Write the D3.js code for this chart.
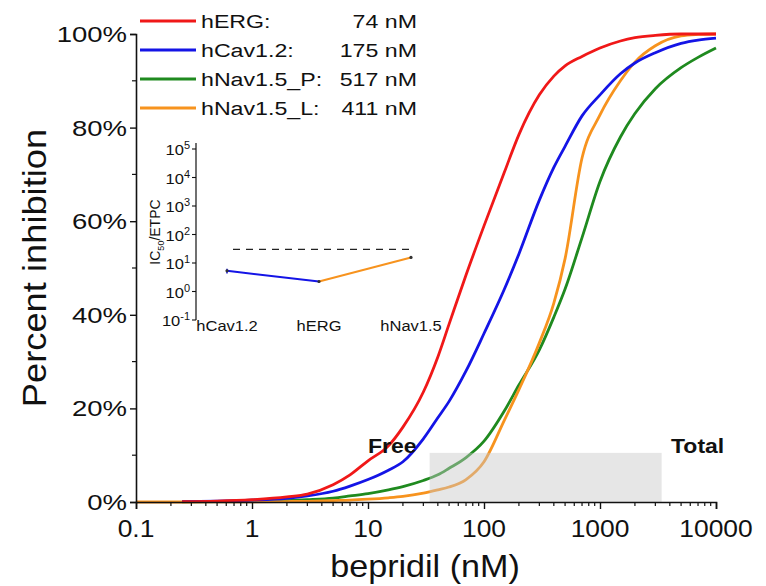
<!DOCTYPE html>
<html>
<head>
<meta charset="utf-8">
<script src="https://cdn.jsdelivr.net/npm/d3@7"></script>
<style>
  html, body { margin: 0; padding: 0; background: #fff; }
  svg { display: block; font-family: "Liberation Sans", Arial, Helvetica, sans-serif; }
</style>
</head>
<body>
<svg id="chart" width="766" height="586"></svg>
<script>
// Concentration grid (nM) shared by all inhibition curves
const conc = [0.1, 0.25, 0.5, 1, 2, 3, 5, 7, 10, 15, 20, 30, 40, 50, 70, 100, 150, 200, 300, 400, 500, 700, 1000, 1500, 2000, 3000, 5000, 7000, 10000];

// Percent inhibition per channel at each concentration (null = not simulated)
const hERG     = [null, 0.1, 0.2, 0.5, 1.1, 1.7, 3.7, 5.8, 8.8, 12, 16, 23.5, 31, 38, 48.5, 59, 70.5, 78.5, 87, 91, 93.2, 95.2, 97, 98.5, 99.2, 99.7, 100, 100, 100];
const hCav12   = [null, 0.1, 0.2, 0.4, 0.8, 1.3, 2.3, 3.4, 4.8, 6.8, 8.6, 13.5, 18, 21.5, 28, 36, 45.5, 53, 64.5, 71.5, 76, 82.5, 87, 91.5, 93.8, 96, 98, 98.7, 99.1];
const hNav15P  = [null, 0.05, 0.1, 0.15, 0.3, 0.5, 0.85, 1.3, 1.8, 2.6, 3.3, 4.6, 5.8, 7.2, 9.5, 13, 19.5, 25, 32.5, 39.5, 45.5, 56.5, 68.5, 78, 83, 88.3, 92.8, 95, 97];
const hNav15L  = [0, 0, 0.02, 0.05, 0.1, 0.15, 0.3, 0.4, 0.6, 0.9, 1.2, 1.9, 2.6, 3.2, 4.8, 8.6, 17.5, 24, 34, 42.5, 52, 73.5, 82.7, 90, 94, 97.5, 99.6, 99.9, 100];

// Legend entries: channel name and IC50 (nM)
const seriesNames = ["hERG:", "hCav1.2:", "hNav1.5_P:", "hNav1.5_L:"];
const ic50 = [74, 175, 517, 411];
const seriesColors = ["#f01818", "#1414e6", "#1f8a1f", "#f7931e"];

// Axis ticks
const xTicks = [0.1, 1, 10, 100, 1000, 10000];
const yTicks = [0, 20, 40, 60, 80, 100];
const yMinorTicks = [10, 30, 50, 70, 90];

// Free and total plasma concentration band (nM) and its height (%)
const freeConc = 34;
const totalConc = 3400;
const bandTop = 10.5;

// Inset: IC50 / ETPC ratio per channel
const insetCats = ["hCav1.2", "hERG", "hNav1.5"];
const insetRatio = [5.3, 2.24, 15.7];
const insetLow = [4.3, 2.05, 14.6];
const insetHigh = [6.3, 2.45, 16.9];
const insetColors = ["#1414e6", "#f7931e"];
const marginLine = 30;
const insetTicks = [-1, 0, 1, 2, 3, 4, 5];

const svg = d3.select("#chart");

const x = d3.scaleLog().domain([0.1, 10000]).range([136, 716]);
const y = d3.scaleLinear().domain([0, 100]).range([502, 34]);

// helper: text with horizontal stretch
function label(g, px, py, str, size, anchor, sx, weight) {
  return g.append("text")
    .attr("transform", `translate(${px},${py}) scale(${sx},1)`)
    .attr("text-anchor", anchor || "start")
    .attr("font-size", size)
    .attr("font-weight", weight || "normal")
    .attr("fill", "#111")
    .text(str);
}

// ---- curves ----
const allSeries = [hERG, hCav12, hNav15P, hNav15L];
const line = d3.line()
  .defined(d => d[1] != null)
  .x(d => x(d[0]))
  .y(d => y(d[1]))
  .curve(d3.curveMonotoneX);

const curves = svg.append("g");
// draw order: green, orange, blue, red
[2, 3, 1, 0].forEach(i => {
  const pts = conc.map((c, k) => [c, allSeries[i][k]]);
  curves.append("path")
    .attr("d", line(pts))
    .attr("fill", "none")
    .attr("stroke", seriesColors[i])
    .attr("stroke-width", 2.8)
    .attr("stroke-linejoin", "round");
});

// ---- concentration band (translucent, over the curves) ----
svg.append("rect")
  .attr("x", x(freeConc))
  .attr("y", y(bandTop))
  .attr("width", x(totalConc) - x(freeConc))
  .attr("height", y(0) - y(bandTop))
  .attr("fill", "rgb(200,200,200)")
  .attr("fill-opacity", 0.45);

label(svg, 368, 453, "Free", 20, "start", 1.15, "bold");
label(svg, 671, 453, "Total", 20, "start", 1.15, "bold");

// ---- axes ----
const xAxis = d3.axisBottom(x)
  .tickValues(xTicks)
  .tickSize(7)
  .tickFormat(d => d3.format("~g")(d));
const gx = svg.append("g").attr("transform", `translate(0,${y(0)})`).call(xAxis);
gx.select(".domain").attr("stroke", "#111").attr("stroke-width", 1.6);
gx.selectAll(".tick line").attr("stroke", "#111").attr("stroke-width", 1.4);
gx.selectAll(".tick text").remove();
xTicks.forEach(t => label(gx, x(t), 35, d3.format("~g")(t), 24, "middle", 1.1));

// minor log ticks
const minor = [];
for (let e = -1; e < 4; e++) for (let m = 2; m <= 9; m++) minor.push(m * Math.pow(10, e));
gx.selectAll(".minor").data(minor).enter().append("line")
  .attr("x1", d => x(d)).attr("x2", d => x(d))
  .attr("y1", 0).attr("y2", 4)
  .attr("stroke", "#111").attr("stroke-width", 1.2);

const yAxis = d3.axisLeft(y).tickValues(yTicks).tickSize(6).tickFormat(d => d + "%");
const gy = svg.append("g").attr("transform", `translate(${x(0.1)},0)`).call(yAxis);
gy.select(".domain").attr("stroke", "#111").attr("stroke-width", 1.6);
gy.selectAll(".tick line").attr("stroke", "#111").attr("stroke-width", 1.4);
gy.selectAll(".tick text").remove();
yTicks.forEach(t => label(gy, -9, y(t) + 8, t + "%", 22, "end", 1.25));
gy.selectAll(".yminor").data(yMinorTicks).enter().append("line")
  .attr("x1", -4).attr("x2", 0)
  .attr("y1", d => y(d)).attr("y2", d => y(d))
  .attr("stroke", "#111").attr("stroke-width", 1.2);

// axis titles
label(svg, 425, 577, "bepridil (nM)", 31, "middle", 1.1);
svg.append("text")
  .attr("transform", `translate(46,268) rotate(-90) scale(1.1,1)`)
  .attr("text-anchor", "middle")
  .attr("font-size", 33)
  .attr("fill", "#111")
  .text("Percent inhibition");

// ---- legend ----
const lg = svg.append("g");
seriesNames.forEach((n, i) => {
  const ly = 21 + i * 29;
  lg.append("line")
    .attr("x1", 140).attr("x2", 196)
    .attr("y1", ly).attr("y2", ly)
    .attr("stroke", seriesColors[i]).attr("stroke-width", 3);
  label(lg, 201, ly + 7, n, 19, "start", 1.22);
  label(lg, 417, ly + 7, ic50[i] + " nM", 19, "end", 1.22);
});

// ---- inset ----
const iy = d3.scaleLog().domain([0.1, 1e5]).range([320, 149]);
const ix = d3.scalePoint().domain(insetCats).range([227, 411]);
const ig = svg.append("g");

ig.append("line")
  .attr("x1", 196).attr("x2", 196)
  .attr("y1", 143).attr("y2", iy(0.1))
  .attr("stroke", "#111").attr("stroke-width", 1.2);
insetTicks.forEach(e => {
  const ty = iy(Math.pow(10, e));
  ig.append("line").attr("x1", 192).attr("x2", 196).attr("y1", ty).attr("y2", ty)
    .attr("stroke", "#111").attr("stroke-width", 1.1);
  const t = ig.append("text")
    .attr("transform", `translate(190,${ty + 6}) scale(1.1,1)`)
    .attr("text-anchor", "end")
    .attr("font-size", 15)
    .attr("fill", "#111");
  t.append("tspan").text("10");
  t.append("tspan").attr("dy", -6).attr("font-size", 10).text(e);
});

// inset y title
const yt = ig.append("text")
  .attr("transform", `translate(160,232) rotate(-90)`)
  .attr("text-anchor", "middle")
  .attr("font-size", 14)
  .attr("fill", "#111");
yt.append("tspan").text("IC");
yt.append("tspan").attr("dy", 4).attr("font-size", 9).text("50");
yt.append("tspan").attr("dy", -4).text("/ETPC");

// category labels
insetCats.forEach(c => label(ig, ix(c), 331, c, 15, "middle", 1.1));

// threshold
ig.append("line")
  .attr("x1", 233).attr("x2", 414)
  .attr("y1", iy(marginLine)).attr("y2", iy(marginLine))
  .attr("stroke", "#222").attr("stroke-width", 1.3)
  .attr("stroke-dasharray", "7,6");

// connecting segments
for (let k = 0; k < insetCats.length - 1; k++) {
  ig.append("line")
    .attr("x1", ix(insetCats[k])).attr("y1", iy(insetRatio[k]))
    .attr("x2", ix(insetCats[k + 1])).attr("y2", iy(insetRatio[k + 1]))
    .attr("stroke", insetColors[k]).attr("stroke-width", 2);
}
// error bars and points
insetCats.forEach((c, k) => {
  const cx = ix(c);
  ig.append("line").attr("x1", cx).attr("x2", cx)
    .attr("y1", iy(insetLow[k])).attr("y2", iy(insetHigh[k]))
    .attr("stroke", k === 0 ? "#1414e6" : "#555").attr("stroke-width", 1.5);
  ig.append("circle").attr("cx", cx).attr("cy", iy(insetRatio[k])).attr("r", 1.6)
    .attr("fill", "#333");
});
</script>
</body>
</html>
